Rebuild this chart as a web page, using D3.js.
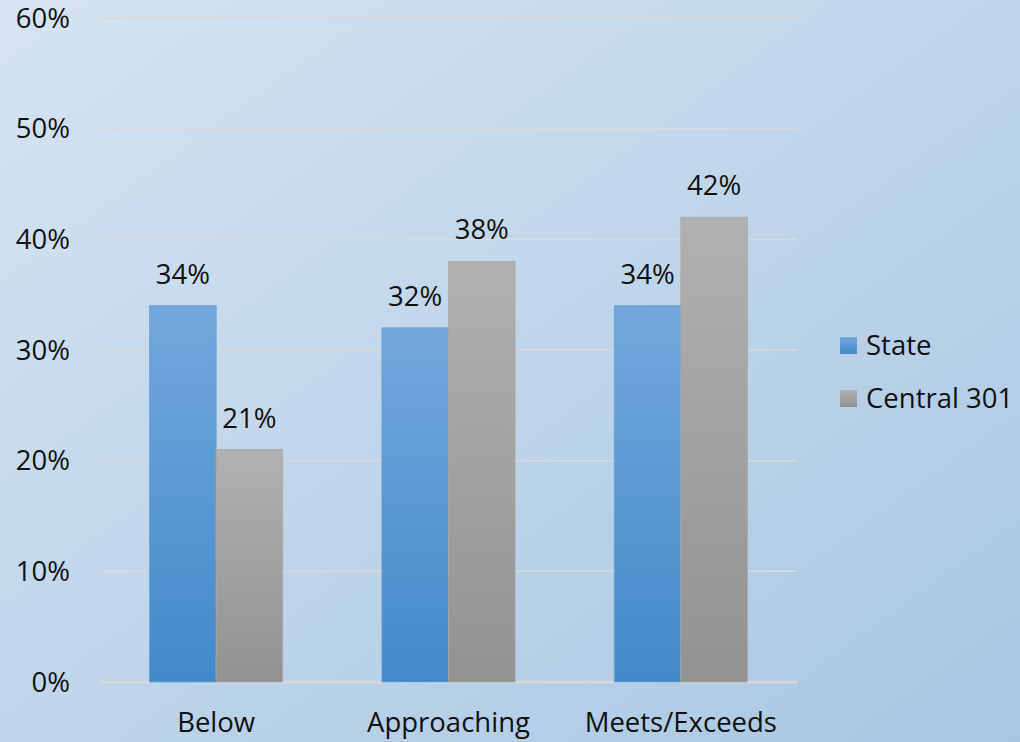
<!DOCTYPE html>
<html>
<head>
<meta charset="utf-8">
<script src="https://cdn.jsdelivr.net/npm/d3@7"></script>
<style>
  html, body { margin: 0; padding: 0; }
  body { width: 1020px; height: 742px; overflow: hidden; }
  text { font-family: "Open Sans", sans-serif; fill: #111; }
</style>
</head>
<body>
<div id="chart"></div>
<script>
// ---- data ----
const categories = ["Below", "Approaching", "Meets/Exceeds"];
const seriesNames = ["State", "Central 301"];
const stateValues = [34, 32, 34];
const centralValues = [21, 38, 42];
const yTicks = [0, 10, 20, 30, 40, 50, 60];

const width = 1020, height = 742;
const margin = { t: 18, r: 223, b: 60, l: 100 };
const fontSize = 27.5;

const svg = d3.select('#chart').append('svg')
  .attr('width', width).attr('height', height);

const defs = svg.append('defs');

// background gradient
const bg = defs.append('linearGradient').attr('id', 'bg')
  .attr('x1', '0%').attr('y1', '0%').attr('x2', '100%').attr('y2', '100%');
bg.append('stop').attr('offset', '0%').attr('stop-color', '#d6e4f2');
bg.append('stop').attr('offset', '100%').attr('stop-color', '#a8c7e3');

const gState = defs.append('linearGradient').attr('id', 'gState')
  .attr('x1', 0).attr('y1', 0).attr('x2', 0).attr('y2', 1);
gState.append('stop').attr('offset', '0%').attr('stop-color', '#73a8dd');
gState.append('stop').attr('offset', '100%').attr('stop-color', '#428ac9');

const gCentral = defs.append('linearGradient').attr('id', 'gCentral')
  .attr('x1', 0).attr('y1', 0).attr('x2', 0).attr('y2', 1);
gCentral.append('stop').attr('offset', '0%').attr('stop-color', '#b1b1b1');
gCentral.append('stop').attr('offset', '100%').attr('stop-color', '#929292');

svg.append('rect').attr('width', width).attr('height', height).attr('fill', 'url(#bg)');

const x0 = d3.scaleBand().domain(categories)
  .range([margin.l, width - margin.r]).paddingInner(0).paddingOuter(0);
const x1 = d3.scaleBand().domain(seriesNames)
  .range([0, x0.bandwidth()]).paddingOuter(0.745).paddingInner(0);
const y = d3.scaleLinear().domain([0, 60]).range([682, margin.t]);

// gridlines
svg.append('g').selectAll('line').data(yTicks).join('line')
  .attr('x1', margin.l).attr('x2', width - margin.r + 0)
  .attr('y1', d => y(d)).attr('y2', d => y(d))
  .attr('stroke', '#d9d9d9')
  .attr('stroke-width', d => d === 0 ? 2.5 : 1.5);

// y tick labels
svg.append('g').selectAll('text').data(yTicks).join('text')
  .attr('x', 70).attr('y', d => y(d))
  .attr('dy', '0.35em')
  .attr('text-anchor', 'end')
  .style('font-size', fontSize + 'px')
  .text(d => d + '%');

// bars
const rows = categories.map((c, i) => ({
  cat: c,
  vals: [
    { s: "State", v: stateValues[i], fill: 'url(#gState)', stroke: '#6a9fd6' },
    { s: "Central 301", v: centralValues[i], fill: 'url(#gCentral)', stroke: '#a8a8a8' }
  ]
}));

const groups = svg.append('g').selectAll('g').data(rows).join('g')
  .attr('transform', d => `translate(${x0(d.cat)},0)`);

groups.selectAll('rect').data(d => d.vals).join('rect')
  .attr('x', d => x1(d.s))
  .attr('y', d => y(d.v))
  .attr('width', x1.bandwidth())
  .attr('height', d => y(0) - y(d.v))
  .attr('fill', d => d.fill)
  .attr('stroke', d => d.stroke)
  .attr('stroke-width', 0.8);

groups.selectAll('text').data(d => d.vals).join('text')
  .attr('x', d => x1(d.s) + x1.bandwidth() / 2)
  .attr('y', d => y(d.v) - 22)
  .attr('text-anchor', 'middle')
  .style('font-size', fontSize + 'px')
  .text(d => d.v + '%');

// category labels
svg.append('g').selectAll('text').data(categories).join('text')
  .attr('x', d => x0(d) + x0.bandwidth() / 2)
  .attr('y', 732)
  .attr('text-anchor', 'middle')
  .style('font-size', fontSize + 'px')
  .text(d => d);

// legend
const legend = svg.append('g').attr('transform', 'translate(840,345)');
const legendItems = [
  { name: seriesNames[0], fill: 'url(#gState)' },
  { name: seriesNames[1], fill: 'url(#gCentral)' }
];
const li = legend.selectAll('g').data(legendItems).join('g')
  .attr('transform', (d, i) => `translate(0,${i * 53})`);
li.append('rect').attr('x', 0).attr('y', -8).attr('width', 17).attr('height', 17)
  .attr('fill', d => d.fill);
li.append('text').attr('x', 26).attr('y', 0).attr('dy', '0.35em')
  .style('font-size', fontSize + 'px')
  .text(d => d.name);
</script>
</body>
</html>
